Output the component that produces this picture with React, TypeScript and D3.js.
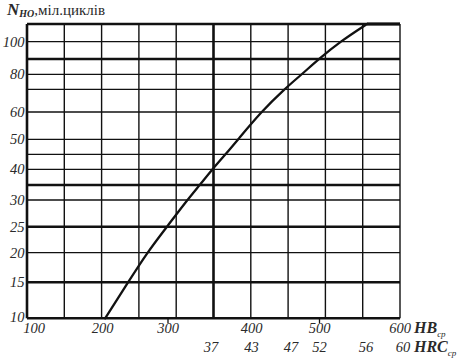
import React from "react";
import * as d3 from "d3";

// ---- data ----
const nGrid = [10, 15, 20, 25, 30, 35, 40, 45, 50, 60, 70, 80, 90, 100, 110];
const nLabels = [10, 15, 20, 25, 30, 40, 50, 60, 80, 100];
const nThick = [10, 15, 25, 35, 90, 110];
const hbTicks = [100, 200, 300, 400, 500, 600];
const hbMinorTicks = [300, 500];
const hrcTicks = [37, 43, 47, 52, 56, 60];
const gridCols = d3.range(0, 11);
const thickCols = [0, 5];
// curve: rise, then flat at the top (plateau)
const curveHB = [204, 239, 268, 298.5, 323, 338, 353, 369, 384, 414, 448, 474, 499, 525.5, 559];
const curveN = [10, 15, 20, 25, 30, 35, 40, 45, 50, 60, 70, 80, 90, 100, 110];
const plateauHB = [559, 600];
const plateauN = [110, 110];

// ---- layout ----
const W = 461;
const H = 361;
const left = 27;
const right = 400;
const top = 24;
const bottom = 318.3;
const nPx = [318.3, 282.3, 252.7, 226.7, 200, 185, 169.3, 154.3, 139.3, 112, 89.3, 74.3, 59, 41.7, 24];
const hbPx = [34, 102.5, 168, 251.5, 319.5, 400];
const hrcPx = [211, 251.5, 291, 319.5, 366, 403];

const INK = "#111";
const TXT = "#2a2a2a";
const FONT = "'Liberation Serif', 'DejaVu Serif', serif";
const serif: React.CSSProperties = { fontFamily: FONT };

export default function App() {
  const y = d3.scaleLinear().domain(nGrid).range(nPx);
  const x = d3.scaleLinear().domain(hbTicks).range(hbPx);
  const xHrc = d3.scaleLinear().domain(hrcTicks).range(hrcPx);
  const col = d3.scaleLinear().domain([0, 10]).range([left, right]);

  const pts: [number, number][] = curveHB.map((h, i) => [x(h), y(curveN[i])]);
  const rise = d3.line().curve(d3.curveBasis)(pts) || "";
  const flat = d3.line()(plateauHB.map((h, i) => [x(h), y(plateauN[i])] as [number, number])) || "";

  return (
    <svg
      width={W}
      height={H}
      style={{ position: "absolute", left: 0, top: 0, background: "#fff" }}
    >
      <rect width={W} height={H} fill="#fff" />
      {nGrid.map((v) => (
        <line
          key={"h" + v}
          x1={left}
          x2={right}
          y1={y(v)}
          y2={y(v)}
          stroke={INK}
          strokeWidth={nThick.includes(v) ? 2.6 : 1.3}
        />
      ))}
      {gridCols.map((c) => (
        <line
          key={"v" + c}
          x1={col(c)}
          x2={col(c)}
          y1={top}
          y2={bottom}
          stroke={INK}
          strokeWidth={thickCols.includes(c) ? 2.6 : 1.4}
        />
      ))}
      {hbMinorTicks.map((v) => (
        <line key={"t" + v} x1={x(v)} x2={x(v)} y1={bottom} y2={bottom + 5} stroke={INK} strokeWidth={1.3} />
      ))}
      <path d={rise} fill="none" stroke={INK} strokeWidth={2.3} strokeLinejoin="round" strokeLinecap="round" />
      <path d={flat} fill="none" stroke={INK} strokeWidth={3} />

      {nLabels.map((v) => (
        <text
          key={"yl" + v}
          x={24.5}
          y={y(v) - (v === 10 ? 1.5 : 0)}
          dy="0.35em"
          textAnchor="end"
          fontStyle="italic"
          fontSize={14.5}
          fill={TXT}
          style={serif}
        >
          {v}
        </text>
      ))}
      {hbTicks.map((v) => (
        <text key={"hb" + v} x={x(v)} y={332.5} textAnchor="middle" fontStyle="italic" fontSize={14.5} fill={TXT} style={serif}>
          {v}
        </text>
      ))}
      {hrcTicks.map((v) => (
        <text key={"hrc" + v} x={xHrc(v)} y={351.5} textAnchor="middle" fontStyle="italic" fontSize={14.5} fill={TXT} style={serif}>
          {v}
        </text>
      ))}
      <text x={414} y={332.5} fontStyle="italic" fontWeight="bold" fontSize={16} fill={TXT} style={serif}>
        HB
        <tspan fontSize={9} fontWeight="normal" dy={4}>ср</tspan>
      </text>
      <text x={414} y={351.5} fontStyle="italic" fontWeight="bold" fontSize={16} fill={TXT} style={serif}>
        HRC
        <tspan fontSize={9} fontWeight="normal" dy={4}>ср</tspan>
      </text>
      <text x={7} y={15} fill={TXT} style={serif}>
        <tspan fontStyle="italic" fontWeight="bold" fontSize={17}>N</tspan>
        <tspan fontStyle="italic" fontWeight="bold" fontSize={10} dy={1.5}>НО</tspan>
        <tspan fontSize={15} dy={-1.5}>,міл.циклів</tspan>
      </text>
    </svg>
  );
}
